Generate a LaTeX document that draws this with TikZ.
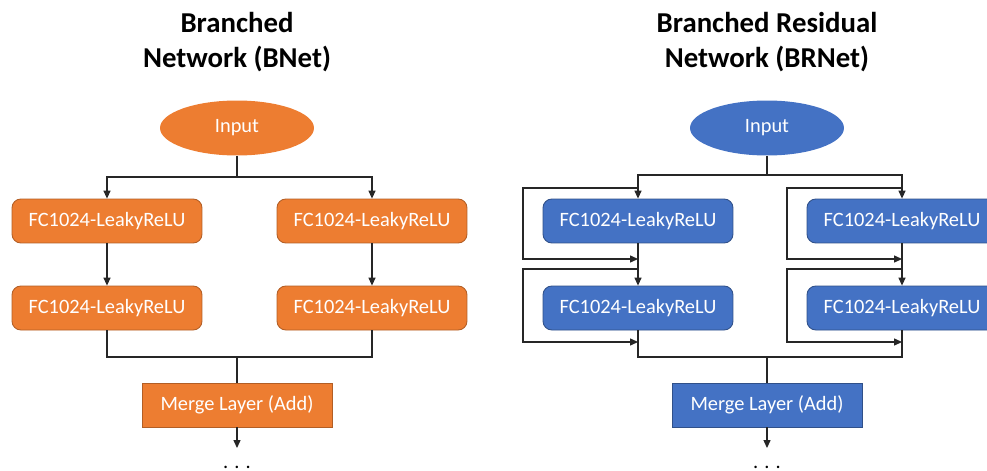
\documentclass[tikz,border=0pt]{standalone}
\usepackage{fontspec}
\setmainfont{Carlito}
\usetikzlibrary{arrows.meta,positioning,shapes.geometric}
\definecolor{BOrange}{RGB}{237,125,49}
\definecolor{BBlue}{RGB}{68,114,196}
\tikzset{
  layer base/.style={
    minimum width=3.8cm,
    minimum height=0.88cm,
    inner sep=0pt,
    text=white,
    font=\fontsize{11.6}{13.9}\selectfont,
    line width=0.5pt
  },
  fcO/.style={layer base,rounded corners=5pt,fill=BOrange,draw=BOrange!75!black},
  fcB/.style={layer base,rounded corners=5pt,fill=BBlue,draw=BBlue!70!black},
  mergeO/.style={layer base,fill=BOrange,draw=BOrange!75!black},
  mergeB/.style={layer base,fill=BBlue,draw=BBlue!70!black},
  inO/.style={layer base,ellipse,minimum width=3.08cm,minimum height=1.1cm,fill=BOrange,draw=none},
  inB/.style={layer base,ellipse,minimum width=3.08cm,minimum height=1.1cm,fill=BBlue,draw=none},
  title/.style={font=\fontsize{16.4}{19.6}\selectfont\bfseries,align=center},
  dots/.style={font=\fontsize{11.6}{13.9}\selectfont,inner sep=0pt,anchor=base},
  edge/.style={line width=0.6pt,black!85},
  arrow/.style={edge,-{Triangle[length=4.5pt,width=4pt]}}
}

\begin{document}
\begin{tikzpicture}[x=0.02cm,y=-0.02cm]
\useasboundingbox (0,0) rectangle (987,470);

% Left panel: branched network
\node[title] (btitle) at (237,42) {Branched\\Network (BNet)};
\node[inO] (bin) at (237,128) {Input};
\node[fcO] (bl1) at (107,221) {FC1024-LeakyReLU};
\node[fcO] (bl2) at (107,308) {FC1024-LeakyReLU};
\node[fcO] (br1) at (372,221) {FC1024-LeakyReLU};
\node[fcO] (br2) at (372,308) {FC1024-LeakyReLU};
\node[mergeO] (bmerge) at (237,405) {Merge Layer (Add)};
\coordinate (bsplit) at (237,177);
\coordinate (bjoin) at (237,357);
\coordinate (bend) at (237,448);
\node[dots] (bdots) at (237,468) {. . .};

\draw[edge] (bin) -- (bsplit);
\draw[arrow] (bsplit) -| (bl1);
\draw[arrow] (bsplit) -| (br1);
\draw[arrow] (bl1) -- (bl2);
\draw[arrow] (br1) -- (br2);
\draw[edge] (bl2) |- (bjoin);
\draw[edge] (br2) |- (bjoin);
\draw[edge] (bjoin) -- (bmerge);
\draw[arrow] (bmerge) -- (bend);

% Right panel: branched residual network
\node[title] (rtitle) at (767,42) {Branched Residual\\Network (BRNet)};
\node[inB] (rin) at (767,128) {Input};
\node[fcB] (rl1) at (638,221) {FC1024-LeakyReLU};
\node[fcB] (rl2) at (638,308) {FC1024-LeakyReLU};
\node[fcB] (rr1) at (902,221) {FC1024-LeakyReLU};
\node[fcB] (rr2) at (902,308) {FC1024-LeakyReLU};
\node[mergeB] (rmerge) at (767,405) {Merge Layer (Add)};
\coordinate (rsplit) at (767,175);
\coordinate (rjoin) at (767,357);
\coordinate (rend) at (767,448);
\node[dots] (rdots) at (767,468) {. . .};

% skip taps and returns
\coordinate (rla) at (638,188);
\coordinate (rlb) at (638,259);
\coordinate (rlc) at (638,269);
\coordinate (rld) at (638,342);
\coordinate (rra) at (902,188);
\coordinate (rrb) at (902,259);
\coordinate (rrc) at (902,269);
\coordinate (rrd) at (902,342);

\draw[edge] (rin) -- (rsplit);
\draw[arrow] (rsplit) -| (rl1);
\draw[arrow] (rsplit) -| (rr1);
\draw[arrow] (rl1) -- (rl2);
\draw[arrow] (rr1) -- (rr2);
\draw[arrow] (rla) -- ++(-115,0) |- (rlb);
\draw[arrow] (rlc) -- ++(-115,0) |- (rld);
\draw[arrow] (rra) -- ++(-115,0) |- (rrb);
\draw[arrow] (rrc) -- ++(-115,0) |- (rrd);
\draw[edge] (rl2) |- (rjoin);
\draw[edge] (rr2) |- (rjoin);
\draw[edge] (rjoin) -- (rmerge);
\draw[arrow] (rmerge) -- (rend);

\end{tikzpicture}
\end{document}
